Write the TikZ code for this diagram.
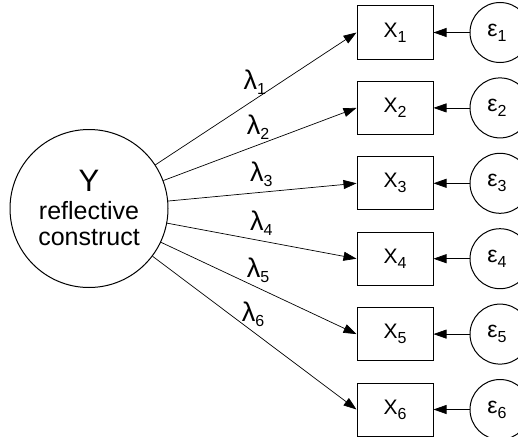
\documentclass[tikz,border=0pt]{standalone}
\usepackage{fontspec}
\setmainfont{Liberation Sans}
\usetikzlibrary{arrows.meta}
\newcommand{\mysub}[1]{\raisebox{-5pt}{\fontsize{16}{16}\selectfont #1}}
\begin{document}
\begin{tikzpicture}[x=1pt,y=-1pt,
  obs/.style={draw, line width=1pt, minimum width=76pt, minimum height=53pt, inner sep=0pt, font=\fontsize{21}{21}\selectfont},
  err/.style={draw, circle, line width=1pt, minimum size=60pt, inner sep=0pt, font=\fontsize{23}{23}\selectfont},
  lat/.style={draw, circle, line width=1pt, minimum size=158pt, inner sep=0pt},
  load/.style={-{Triangle[length=13pt,width=9pt]}, line width=0.7pt},
  lam/.style={anchor=base west, inner sep=0pt, font=\fontsize{27}{27}\selectfont},
  ytext/.style={anchor=base, inner sep=0pt}]
\useasboundingbox (0,0) rectangle (518,436);
\node[lat] (Y) at (89,208.5) {};
\node[ytext, font=\fontsize{31}{31}\selectfont] (ytitle) at (89,191) {Y};
\node[ytext, font=\fontsize{25}{25}\selectfont] (yrefl) at (89,219.5) {reflective};
\node[ytext, font=\fontsize{25}{25}\selectfont] (ycons) at (89,245) {construct};
\foreach \i in {1,...,6} {
  \pgfmathsetmacro{\yy}{32.5+75.4*(\i-1)}
  \node[obs] (x\i) at (395,\yy) {X\mysub{\i}};
  \node[err] (e\i) at (500,\yy) {\hspace{-6pt}ε\mysub{\i}};
  \draw[load] (Y) -- (x\i.west);
  \draw[load] (e\i) -- (x\i.east);
}
\node[lam] (l1) at (243.3,89.3) {λ\mysub{1}};
\node[lam] (l2) at (246.7,134) {λ\mysub{2}};
\node[lam] (l3) at (250,181.7) {λ\mysub{3}};
\node[lam] (l4) at (250,230) {λ\mysub{4}};
\node[lam] (l5) at (246.7,277) {λ\mysub{5}};
\node[lam] (l6) at (241.7,321.7) {λ\mysub{6}};
\end{tikzpicture}
\end{document}
